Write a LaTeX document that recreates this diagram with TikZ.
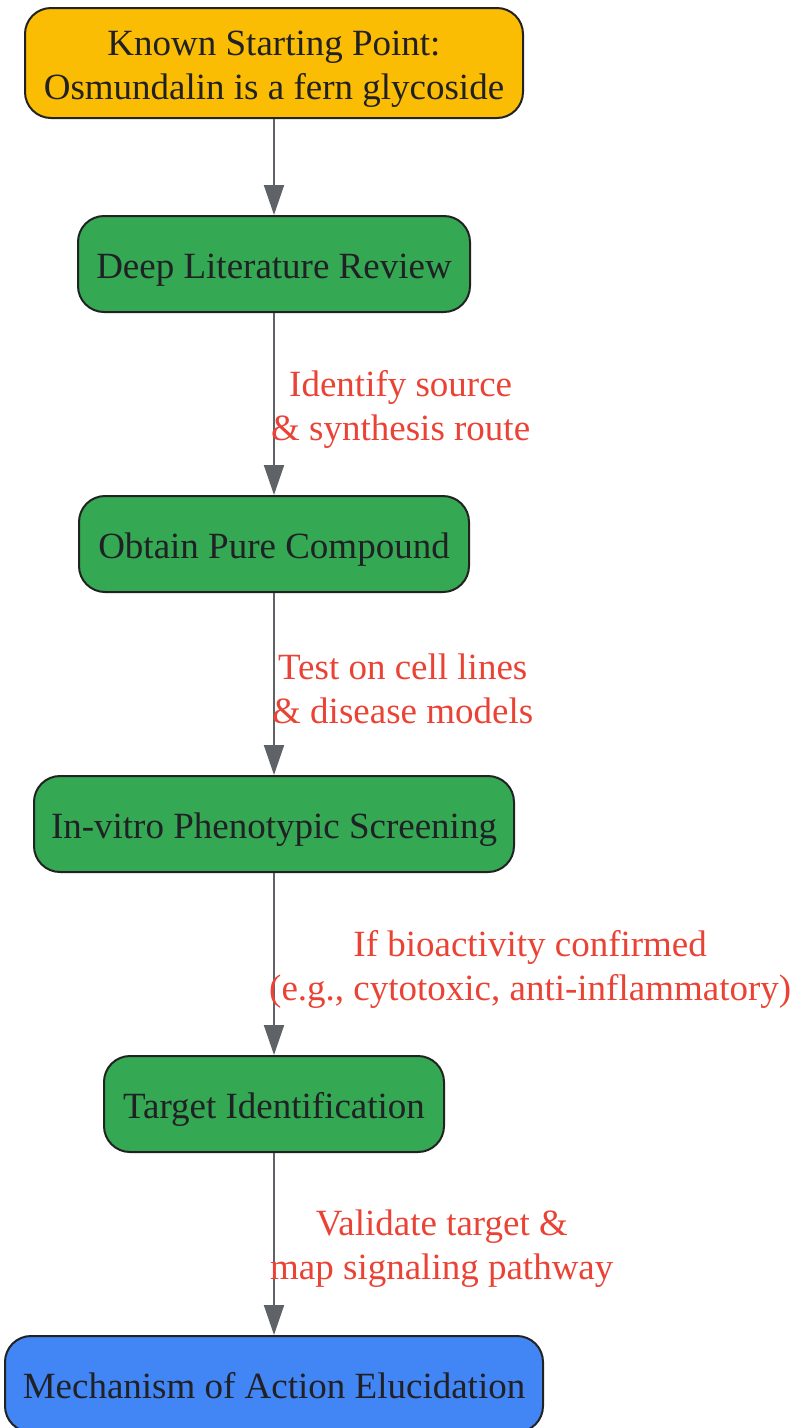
\documentclass[tikz,border=0pt]{standalone}
\usepackage{fontspec}
\setmainfont{Liberation Serif}
\usetikzlibrary{arrows.meta}
\definecolor{cOrange}{HTML}{FBBC04}
\definecolor{cGreen}{HTML}{34A853}
\definecolor{cBlue}{HTML}{4285F4}
\definecolor{cRed}{HTML}{EA4335}
\definecolor{cText}{HTML}{202124}
\definecolor{cEdge}{HTML}{5F6368}
\definecolor{cBorder}{HTML}{222222}
\begin{document}
\begin{tikzpicture}[x=1pt,y=-1pt,
  box/.style={draw=cBorder,line width=2pt,rounded corners=26pt,inner sep=0pt,
    text=cText,align=center,font=\fontsize{37}{44}\selectfont,minimum height=96pt,
    text height=30pt,text depth=2pt},
  arr/.style={draw=cEdge,line width=2pt,-{Triangle[length=30pt,width=20pt]}},
  lbl/.style={text=cRed,align=center,anchor=west,inner sep=0pt,font=\fontsize{37}{44}\selectfont}]
\useasboundingbox (0,0) rectangle (800,1428);
\node[box,fill=cOrange,minimum width=498pt,minimum height=110pt,text height=74pt,text depth=2pt] (n1) at (274,63) {Known Starting Point:\\Osmundalin is a fern glycoside};
\node[box,fill=cGreen,minimum width=392pt] (n2) at (274,264) {Deep Literature Review};
\node[box,fill=cGreen,minimum width=390pt] (n3) at (274,544) {Obtain Pure Compound};
\node[box,fill=cGreen,minimum width=480pt] (n4) at (274,824) {In-vitro Phenotypic Screening};
\node[box,fill=cGreen,minimum width=340pt] (n5) at (274,1104) {Target Identification};
\node[box,fill=cBlue,minimum width=538pt] (n6) at (274,1384) {Mechanism of Action Elucidation};
\draw[arr] (n1) -- (n2);
\draw[arr] (n2) -- (n3);
\draw[arr] (n3) -- (n4);
\draw[arr] (n4) -- (n5);
\draw[arr] (n5) -- (n6);
\node[lbl] (l1) at (271,409) {Identify source\\\& synthesis route};
\node[lbl] (l2) at (272,689) {Test on cell lines\\\& disease models};
\node[lbl] (l3) at (269,969) {If bioactivity confirmed\\(e.g., cytotoxic, anti-inflammatory)};
\node[lbl] (l4) at (270,1249) {Validate target \&\\map signaling pathway};
\end{tikzpicture}
\end{document}
